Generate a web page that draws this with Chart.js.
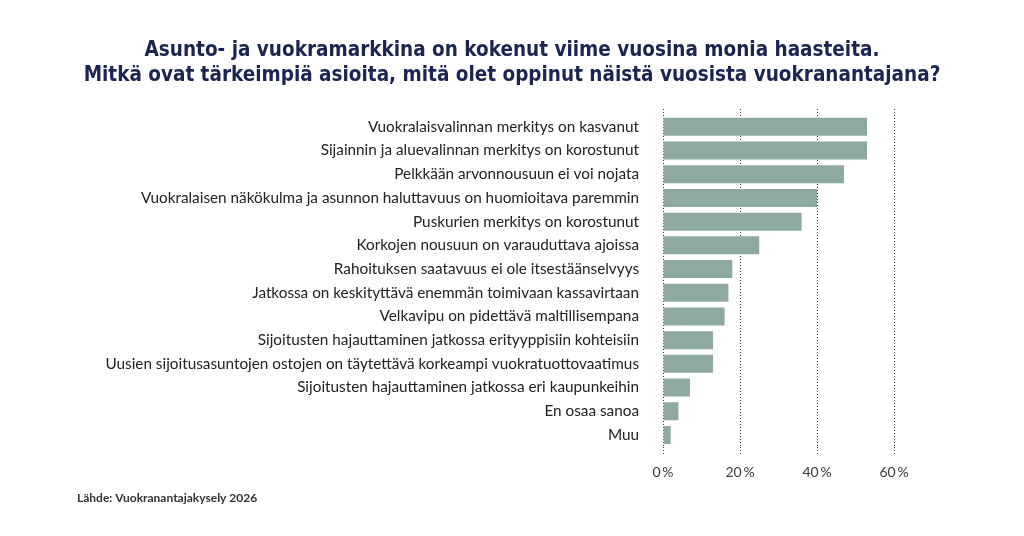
<!DOCTYPE html>
<html lang="fi">
<head>
<meta charset="utf-8">
<title>Vuokranantajakysely</title>
<script src="https://cdn.jsdelivr.net/npm/chart.js@4.4.1/dist/chart.umd.min.js"></script>
<style>
  html, body { margin: 0; padding: 0; background: #ffffff; }
  #wrap { position: relative; width: 1024px; height: 536px; }
  #title {
    position: absolute; left: 0; top: 37px; width: 1024px;
    text-align: center; color: #1c2452;
    font-family: 'DejaVu Sans Condensed', 'DejaVu Sans', sans-serif;
    font-weight: bold; font-size: 20.5px; line-height: 25px;
  }
  #chart { position: absolute; left: 0; top: 0; }
</style>
</head>
<body>
<div id="wrap">
  <canvas id="chart" width="1024" height="536"></canvas>
  <div id="title"></div>
</div>
<script>
//<![CDATA[

let titleLines = [
    'Asunto- ja vuokramarkkina on kokenut viime vuosina monia haasteita.',
    'Mitkä ovat tärkeimpiä asioita, mitä olet oppinut näistä vuosista vuokranantajana?'
];
let sourceText = 'Lähde: Vuokranantajakysely 2026';
let categories = [
    'Vuokralaisvalinnan merkitys on kasvanut',
    'Sijainnin ja aluevalinnan merkitys on korostunut',
    'Pelkkään arvonnousuun ei voi nojata',
    'Vuokralaisen näkökulma ja asunnon haluttavuus on huomioitava paremmin',
    'Puskurien merkitys on korostunut',
    'Korkojen nousuun on varauduttava ajoissa',
    'Rahoituksen saatavuus ei ole itsestäänselvyys',
    'Jatkossa on keskityttävä enemmän toimivaan kassavirtaan',
    'Velkavipu on pidettävä maltillisempana',
    'Sijoitusten hajauttaminen jatkossa erityyppisiin kohteisiin',
    'Uusien sijoitusasuntojen ostojen on täytettävä korkeampi vuokratuottovaatimus',
    'Sijoitusten hajauttaminen jatkossa eri kaupunkeihin',
    'En osaa sanoa',
    'Muu'
];
let shares = [53, 53, 47, 40, 36, 25, 18, 17, 16, 13, 13, 7, 4, 2];
let tickValues = [0, 20, 40, 60];

let barColor = '#8eaa9f';
let gridColor = '#333333';
let labelFont = "Lato, 'Open Sans', sans-serif";

let titleBox = document.getElementById('title');
titleLines.forEach(function(line) {
    let div = document.createElement('div');
    div.textContent = line;
    titleBox.appendChild(div);
});

function fixedTicks(scale) {
    scale.ticks = tickValues.map(function(v) { return { value: v }; });
}

const ctx = document.getElementById('chart');
const myChart = new Chart(ctx, {
    type: 'bar',
    data: {
        labels: categories,
        datasets: [
            {
                label: '',
                data: shares,
                backgroundColor: barColor,
                borderWidth: 0,
                barPercentage: 0.76,
                categoryPercentage: 1.0
            }
        ]
    },
    options: {
        indexAxis: 'y',
        responsive: false,
        animation: false,
        layout: {
            padding: { left: 77, right: 130, top: 109, bottom: 31 }
        },
        plugins: {
            legend: { display: false },
            tooltip: { enabled: false },
            title: { display: false },
            subtitle: {
                display: true,
                position: 'bottom',
                align: 'start',
                text: sourceText,
                color: '#333333',
                font: { family: labelFont, size: 12, weight: 'bold' },
                padding: { top: 0, bottom: 0 }
            }
        },
        scales: {
            x: {
                min: 0,
                max: 60,
                afterBuildTicks: fixedTicks,
                border: { display: false, dash: [1, 2] },
                grid: {
                    color: gridColor,
                    lineWidth: 1,
                    tickBorderDash: [1, 2],
                    tickColor: gridColor,
                    tickLength: 7,
                    drawTicks: true
                },
                ticks: {
                    color: '#3a3a3a',
                    font: { family: labelFont, size: 14 },
                    padding: 10,
                    callback: function(v) { return v + '\u2009%'; }
                }
            },
            xTop: {
                type: 'linear',
                position: 'top',
                axis: 'x',
                min: 0,
                max: 60,
                afterBuildTicks: fixedTicks,
                border: { display: false },
                grid: {
                    drawOnChartArea: false,
                    tickBorderDash: [1, 2],
                    tickColor: gridColor,
                    tickLength: 6,
                    drawTicks: true
                },
                ticks: { display: false }
            },
            y: {
                border: { display: false },
                grid: { display: false, drawTicks: false },
                afterFit: function(scale) {
                    scale.width = 586;
                },
                ticks: {
                    color: '#222222',
                    font: { family: labelFont, size: 15.3 },
                    padding: 24
                }
            }
        }
    }
});

// ]]>
</script>
</body>
</html>
